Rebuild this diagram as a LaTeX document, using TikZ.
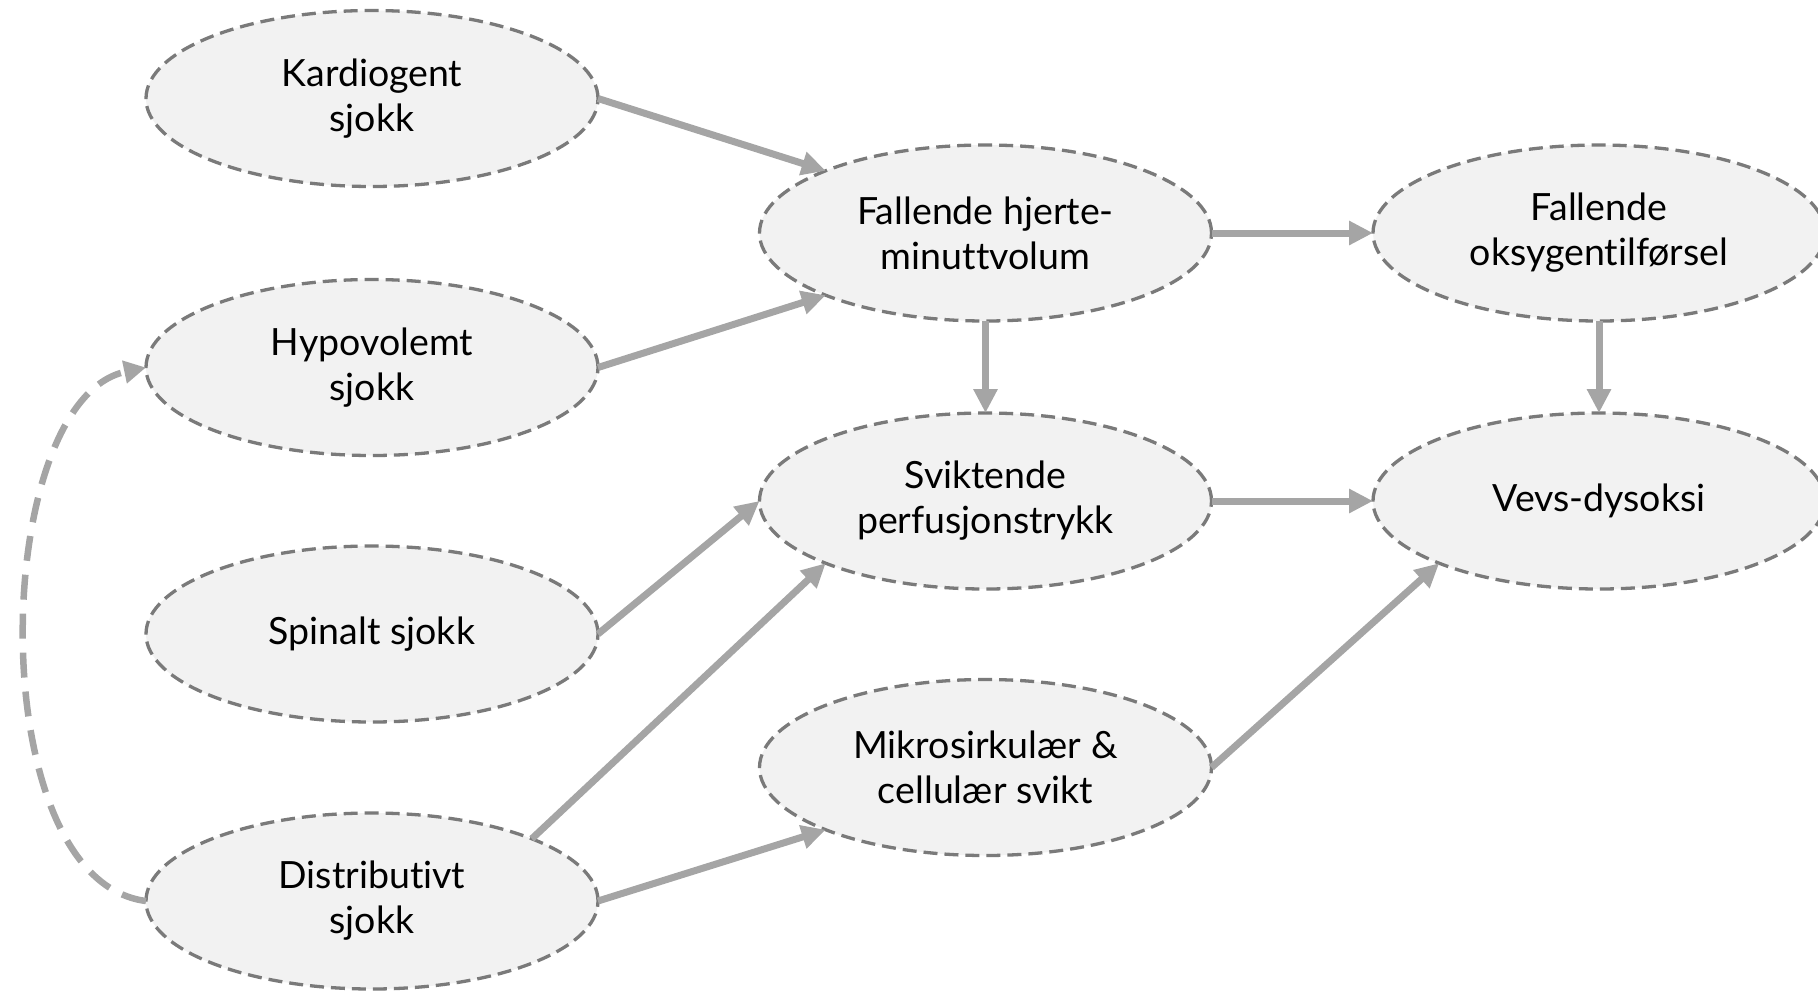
\documentclass[tikz,border=0pt]{standalone}
\usepackage{fontspec}
\setmainfont[Ligatures={NoCommon}]{Lato}
\usetikzlibrary{shapes.geometric,arrows.meta}
\definecolor{nodefill}{HTML}{F2F2F2}
\definecolor{nodeline}{HTML}{7A7A7A}
\definecolor{arrowcol}{HTML}{A5A5A5}
\begin{document}
\begin{tikzpicture}[x=1pt,y=-1pt,
  box/.style={ellipse, draw=nodeline, fill=nodefill, line width=3.3pt,
    dash pattern=on 14pt off 7pt, minimum width=452pt, minimum height=176pt,
    inner sep=0pt, outer sep=0pt, align=center,
    font=\fontsize{37.5}{45}\selectfont, text=black},
  link/.style={draw=arrowcol, line width=7pt, -{Triangle[length=24pt,width=23pt]}},
  back/.style={link, dash pattern=on 25pt off 14pt, line width=6.5pt,
    -{Triangle[length=22pt,width=22pt]}}]
\useasboundingbox (0,0) rectangle (1818,994);
\node[box] (k)  at (372,98.5)  {Kardiogent\\sjokk};
\node[box] (h)  at (372,367.5) {Hypovolemt\\sjokk};
\node[box] (sp) at (372,634)   {Spinalt sjokk};
\node[box] (d)  at (372,901)   {Distributivt\\sjokk};
\node[box] (fh) at (985.5,233) {Fallende hjerte-\\minuttvolum};
\node[box] (fo) at (1599,233)  {Fallende\\oksygentilførsel};
\node[box] (sv) at (985.5,501) {Sviktende\\perfusjonstrykk};
\node[box] (v)  at (1599,501)  {Vevs-dysoksi};
\node[box] (m)  at (985.5,767.5) {Mikrosirkulær \&\\cellulær svikt};
\draw[link] (k.east) -- (fh.north west);
\draw[link] (h.east) -- (fh.south west);
\draw[link] (fh.east) -- (fo.west);
\draw[link] (fh.south) -- (sv.north);
\draw[link] (fo.south) -- (v.north);
\draw[link] (sv.east) -- (v.west);
\draw[link] (sp.east) -- (sv.west);
\draw[link] (d.north east) -- (sv.south west);
\draw[link] (d.east) -- (m.south west);
\draw[link] (m.east) -- (v.south west);
\draw[back] (d.west) .. controls (-20,880) and (-10,400) .. (h.west);
\end{tikzpicture}
\end{document}
